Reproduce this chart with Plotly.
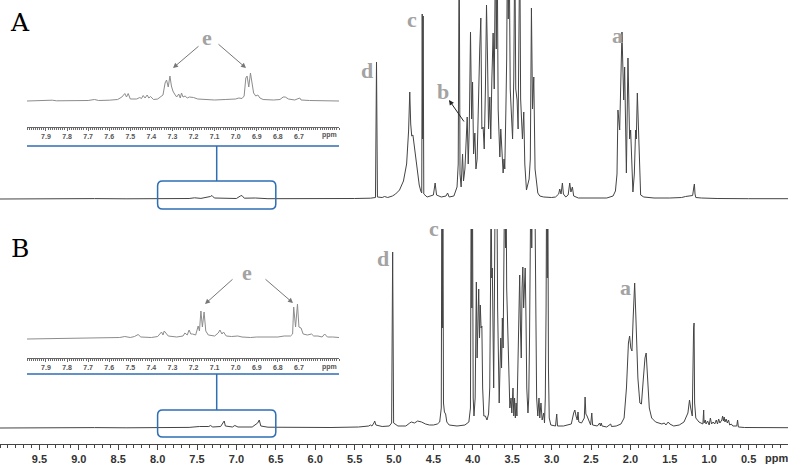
import plotly.graph_objects as go

# ---------------- data (ppm, intensity) ----------------
spec_A = [
    (10.0, 0), (9.6, 0.3), (9.2, 0), (8.8, 0.4), (8.4, 0.2), (8.0, 0.3), (7.6, 0.5), (7.53, 1.2), (7.45, 0.6),
    (7.33, 2.5), (7.31, 3.5), (7.28, 1), (7.2, 0.8), (7.0, 0.5), (6.95, 3), (6.93, 3.5), (6.90, 0.8), (6.76, 1),
    (6.6, 0.3), (6.2, 0.2), (5.8, 0.3), (5.5, 0.5), (5.30, 0.8), (5.235, 1.5), (5.222, 137), (5.21, 2), (5.15, 1.5),
    (5.12, 2.5), (5.08, 1.5), (5.02, 3), (4.98, 5), (4.93, 9), (4.88, 18), (4.84, 35), (4.815, 68), (4.80, 107),
    (4.788, 75), (4.775, 63), (4.76, 64), (4.74, 52), (4.71, 30), (4.68, 14), (4.66, 8), (4.648, 6), (4.642, 185),
    (4.636, 60), (4.630, 183), (4.622, 5), (4.58, 2), (4.50, 4), (4.478, 16), (4.46, 4), (4.40, 2), (4.34, 3),
    (4.32, 6), (4.30, 2), (4.24, 3), (4.20, 12), (4.185, 35), (4.173, 260), (4.162, 25), (4.148, 12), (4.130, 45),
    (4.118, 18), (4.100, 30), (4.085, 60), (4.071, 82), (4.058, 35), (4.045, 70), (4.029, 167), (4.015, 80),
    (4.003, 117), (3.99, 45), (3.974, 66), (3.96, 30), (3.945, 40), (3.93, 100), (3.912, 150), (3.898, 181),
    (3.885, 70), (3.869, 72), (3.855, 50), (3.84, 110), (3.826, 194), (3.813, 140), (3.800, 70), (3.784, 102),
    (3.772, 60), (3.758, 120), (3.742, 166), (3.728, 110), (3.712, 260), (3.702, 150), (3.691, 260), (3.678, 90),
    (3.667, 60), (3.657, 42), (3.645, 70), (3.630, 50), (3.615, 26), (3.604, 40), (3.594, 30), (3.580, 90),
    (3.570, 140), (3.560, 260), (3.550, 180), (3.539, 260), (3.525, 110), (3.509, 82), (3.495, 60), (3.480, 120),
    (3.467, 260), (3.455, 110), (3.438, 99), (3.425, 70), (3.415, 150), (3.404, 260), (3.393, 100), (3.383, 79),
    (3.370, 60), (3.353, 87), (3.340, 35), (3.319, 9), (3.300, 14), (3.285, 20), (3.270, 40), (3.256, 191),
    (3.242, 90), (3.226, 122), (3.210, 30), (3.192, 16), (3.175, 6), (3.150, 3), (3.10, 2), (3.0, 1.5), (2.95, 2),
    (2.91, 5), (2.897, 10), (2.88, 5), (2.863, 16), (2.85, 5), (2.82, 2), (2.79, 4), (2.77, 16), (2.755, 7),
    (2.736, 12), (2.72, 3), (2.66, 1), (2.5, 1), (2.3, 1), (2.22, 3), (2.19, 8), (2.17, 25), (2.158, 89),
    (2.136, 69), (2.107, 167), (2.085, 99), (2.073, 132), (2.051, 26), (2.031, 141), (2.010, 60), (1.997, 69),
    (1.968, 7), (1.95, 25), (1.934, 69), (1.925, 60), (1.912, 106), (1.892, 59), (1.88, 20), (1.87, 4), (1.83, 2),
    (1.7, 1), (1.5, 1), (1.35, 1.5), (1.30, 2.5), (1.25, 3), (1.21, 3.5), (1.195, 12), (1.188, 15), (1.18, 5),
    (1.17, 1.5), (1.1, 1), (0.9, 0.5), (0.5, 0.3), (0.0, 0.3),
]

spec_B = [
    (10.0, 0), (9.6, 0.3), (9.2, 0.1), (8.8, 0.4), (8.4, 0.2), (8.0, 0.4), (7.6, 0.6), (7.47, 1.5), (7.35, 1.5),
    (7.33, 2.5), (7.3, 1), (7.2, 1.5), (7.17, 6), (7.155, 7), (7.14, 2), (7.05, 1), (7.02, 2.5), (6.98, 1),
    (6.8, 1), (6.73, 5), (6.71, 8), (6.69, 2), (6.6, 0.8), (6.2, 0.3), (5.8, 0.5), (5.45, 1), (5.32, 2),
    (5.30, 3), (5.28, 2), (5.255, 5), (5.245, 7), (5.23, 3), (5.15, 1.5), (5.06, 2), (5.03, 5), (5.017, 176),
    (5.005, 5), (4.95, 2), (4.85, 2), (4.80, 5), (4.78, 6), (4.74, 5), (4.70, 7), (4.65, 6), (4.60, 4), (4.55, 3),
    (4.50, 3), (4.45, 4), (4.42, 6), (4.40, 20), (4.392, 260), (4.386, 100), (4.380, 260), (4.372, 25), (4.36, 16),
    (4.345, 14), (4.33, 6), (4.30, 3), (4.20, 2), (4.10, 3), (4.05, 6), (4.03, 20), (4.020, 260), (4.012, 120),
    (4.005, 260), (3.995, 30), (3.985, 12), (3.97, 30), (3.955, 146), (3.945, 70), (3.935, 118), (3.925, 139),
    (3.915, 90), (3.905, 123), (3.895, 100), (3.885, 102), (3.875, 40), (3.86, 12), (3.84, 12), (3.82, 8),
    (3.80, 14), (3.785, 40), (3.775, 140), (3.768, 260), (3.760, 150), (3.752, 160), (3.742, 90), (3.735, 40),
    (3.725, 140), (3.715, 260), (3.705, 200), (3.695, 260), (3.685, 120), (3.675, 40), (3.665, 25), (3.655, 60),
    (3.645, 90), (3.635, 60), (3.625, 110), (3.615, 80), (3.605, 160), (3.595, 260), (3.585, 180), (3.578, 260),
    (3.570, 140), (3.560, 100), (3.55, 60), (3.54, 50), (3.53, 20), (3.515, 30), (3.505, 15), (3.49, 40),
    (3.48, 12), (3.47, 30), (3.46, 10), (3.45, 25), (3.44, 12), (3.425, 70), (3.415, 120), (3.405, 153),
    (3.395, 100), (3.385, 70), (3.375, 140), (3.365, 161), (3.355, 120), (3.345, 150), (3.335, 160), (3.325, 110),
    (3.315, 40), (3.30, 15), (3.29, 30), (3.28, 90), (3.27, 200), (3.262, 260), (3.252, 180), (3.242, 260),
    (3.232, 200), (3.222, 260), (3.212, 240), (3.20, 120), (3.19, 30), (3.175, 12), (3.16, 30), (3.15, 10),
    (3.135, 25), (3.12, 8), (3.10, 15), (3.09, 5), (3.08, 30), (3.07, 120), (3.063, 260), (3.055, 150),
    (3.048, 260), (3.04, 60), (3.03, 10), (3.01, 3), (2.95, 2), (2.935, 14), (2.925, 2), (2.85, 2), (2.75, 4),
    (2.72, 15), (2.705, 18), (2.69, 12), (2.675, 8), (2.665, 16), (2.655, 6), (2.62, 5), (2.585, 10), (2.575, 31),
    (2.565, 14), (2.55, 12), (2.53, 8), (2.505, 3), (2.49, 15), (2.48, 3), (2.42, 2), (2.39, 5), (2.38, 2),
    (2.37, 5), (2.36, 2), (2.3, 1), (2.25, 4), (2.24, 1.5), (2.18, 2), (2.12, 4), (2.08, 10), (2.05, 40),
    (2.025, 85), (2.010, 92), (1.995, 80), (1.98, 77), (1.965, 110), (1.946, 145), (1.93, 110), (1.905, 50),
    (1.88, 25), (1.86, 24), (1.835, 50), (1.815, 70), (1.800, 75), (1.785, 50), (1.76, 20), (1.73, 10), (1.68, 6),
    (1.60, 4), (1.57, 5), (1.55, 3), (1.52, 6), (1.50, 4), (1.45, 2), (1.38, 3), (1.32, 6), (1.27, 15), (1.25, 28),
    (1.235, 20), (1.215, 12), (1.198, 100), (1.192, 105), (1.185, 25), (1.17, 10), (1.13, 6), (1.08, 4), (1.07, 18),
    (1.065, 5), (1.05, 8), (1.04, 4), (1.02, 7), (1.00, 3), (0.985, 10), (0.97, 4), (0.95, 6), (0.93, 4), (0.91, 8),
    (0.895, 4), (0.88, 9), (0.865, 5), (0.84, 8), (0.83, 12), (0.82, 7), (0.81, 11), (0.80, 6), (0.785, 9),
    (0.77, 5), (0.755, 8), (0.74, 3), (0.72, 4), (0.70, 2), (0.65, 2), (0.64, 8), (0.63, 1), (0.55, 0.5),
    (0.3, 0.2), (0.0, 0.3),
]

inset_A = [
    (7.99, 0), (7.95, 0.3), (7.90, 0), (7.87, 0.8), (7.85, 0.2), (7.80, 0.3), (7.75, 0.2), (7.70, 0.5), (7.67, 1.5),
    (7.65, 0.5), (7.60, 0.8), (7.56, 1.5), (7.54, 4), (7.526, 7.5), (7.518, 4), (7.510, 7.5), (7.50, 2), (7.47, 2),
    (7.455, 3.5), (7.447, 2.5), (7.439, 5.5), (7.43, 3), (7.42, 6), (7.412, 3), (7.404, 4.5), (7.39, 1.5),
    (7.37, 2), (7.345, 6), (7.335, 18), (7.328, 21), (7.32, 14), (7.312, 25), (7.305, 15), (7.298, 10), (7.29, 7),
    (7.28, 4), (7.27, 7), (7.263, 3), (7.257, 8), (7.25, 4), (7.24, 5), (7.23, 3), (7.22, 4), (7.20, 3.5),
    (7.18, 2), (7.15, 1.5), (7.10, 1), (7.05, 1.5), (7.00, 2), (6.985, 3), (6.97, 2.5), (6.96, 5), (6.952, 23),
    (6.946, 25), (6.938, 14), (6.930, 28), (6.922, 15), (6.915, 8), (6.905, 5), (6.895, 6), (6.885, 3), (6.87, 1.5),
    (6.82, 1), (6.79, 1.5), (6.775, 4), (6.765, 4), (6.75, 2), (6.72, 1), (6.696, 3), (6.69, 1), (6.65, 0.5),
    (6.60, 0.3), (6.51, 0),
]

inset_B = [
    (7.99, 0), (7.9, 0.3), (7.8, 0.2), (7.7, 0.5), (7.6, 1), (7.55, 1.5), (7.526, 2.5), (7.50, 1.5), (7.48, 2.5),
    (7.463, 4.5), (7.45, 2), (7.40, 1.5), (7.37, 2.5), (7.352, 7), (7.345, 4), (7.339, 8), (7.32, 3), (7.28, 2),
    (7.25, 3), (7.241, 6), (7.23, 4), (7.221, 9), (7.213, 5), (7.205, 5), (7.19, 4), (7.178, 13), (7.172, 8),
    (7.165, 28), (7.158, 12), (7.150, 27), (7.142, 8), (7.13, 4), (7.10, 3), (7.083, 6), (7.075, 9), (7.065, 5),
    (7.058, 7), (7.045, 3), (7.02, 2.5), (6.99, 3), (6.97, 2), (6.93, 1.5), (6.90, 2), (6.85, 2), (6.80, 2),
    (6.77, 3), (6.74, 3), (6.73, 5), (6.725, 32), (6.716, 12), (6.707, 35), (6.70, 12), (6.69, 11), (6.68, 5),
    (6.66, 4), (6.64, 5), (6.63, 3), (6.61, 3), (6.59, 2), (6.578, 5), (6.565, 2), (6.54, 2), (6.51, 1.5),
]

main_ticks = [9.5, 9.0, 8.5, 8.0, 7.5, 7.0, 6.5, 6.0, 5.5, 5.0, 4.5, 4.0, 3.5, 3.0, 2.5, 2.0, 1.5, 1.0, 0.5]
inset_ticks = [7.9, 7.8, 7.7, 7.6, 7.5, 7.4, 7.3, 7.2, 7.1, 7.0, 6.9, 6.8, 6.7]
peak_labels_A = [("e", 207, 37), ("d", 367, 70), ("c", 412, 19), ("b", 443, 91), ("a", 617, 36)]
peak_labels_B = [("e", 247, 272), ("d", 383, 259), ("c", 434, 229), ("a", 625, 287)]

# ---------------- layout helpers ----------------
W, H, PLOT_H = 788, 465, 444


def px(x):
    return x / W


def py(y):
    return (PLOT_H - y) / PLOT_H


SPEC_COLOR = "#444444"
INSET_COLOR = "#8c8c8c"
BLUE = "#2f6db5"
LABEL_GREY = "#a3a3a3"

fig = go.Figure()


def add_spec(pairs, xa, ya, color, width):
    fig.add_trace(go.Scatter(x=[p[0] for p in pairs], y=[p[1] for p in pairs], mode="lines",
                             line=dict(color=color, width=width), xaxis=xa, yaxis=ya,
                             hoverinfo="skip", showlegend=False))


add_spec(spec_A, "x", "y", SPEC_COLOR, 1)
add_spec(spec_B, "x", "y2", SPEC_COLOR, 1)
add_spec(inset_A, "x2", "y3", INSET_COLOR, 1)
add_spec(inset_B, "x3", "y4", INSET_COLOR, 1)

hidden_y = dict(visible=False, showgrid=False, zeroline=False, fixedrange=True)
inset_x = dict(domain=[px(27), px(339)], range=[7.99, 6.51], showline=True, linecolor="#6a6a6a", linewidth=1,
               ticks="outside", ticklen=3, tickcolor="#6a6a6a", tickwidth=1,
               tickmode="array", tickvals=inset_ticks, ticktext=[f"{v:.1f}" for v in inset_ticks],
               tickfont=dict(family="Liberation Sans", size=7, color="#555555", weight="bold"),
               minor=dict(tickmode="linear", tick0=0, dtick=0.01, ticks="outside", ticklen=1.5,
                          tickcolor="#6a6a6a", tickwidth=1, showgrid=False),
               showgrid=False, zeroline=False)

fig.update_layout(
    width=W, height=H, margin=dict(l=0, r=0, t=0, b=H - PLOT_H, autoexpand=False),
    paper_bgcolor="white", plot_bgcolor="white", showlegend=False,
    xaxis=dict(domain=[0, 1], range=[10.0, 0.0], anchor="y2", showline=True, linecolor="#444444", linewidth=1,
               ticks="outside", ticklen=5, tickcolor="#444444", tickwidth=1,
               tickmode="array", tickvals=main_ticks, ticktext=[f"{v:.1f}" for v in main_ticks],
               tickfont=dict(family="Liberation Sans", size=11, color="#333333", weight="bold"),
               minor=dict(tickmode="linear", tick0=0, dtick=0.1, ticks="outside", ticklen=2.5,
                          tickcolor="#444444", tickwidth=1, showgrid=False),
               showgrid=False, zeroline=False),
    yaxis=dict(domain=[py(205), 1.0], range=[-6, 199], **hidden_y),
    yaxis2=dict(domain=[0, py(229)], range=[-16, 199], **hidden_y),
    xaxis2=dict(anchor="y3", **inset_x),
    yaxis3=dict(domain=[py(127), py(60)], range=[-26, 41], **hidden_y),
    xaxis3=dict(anchor="y4", **inset_x),
    yaxis4=dict(domain=[py(358), py(290)], range=[-19, 49], **hidden_y),
)

# ---------------- blue zoom connectors ----------------
def rounded_box(left, right, top_px, bot_px, r_px=5):
    rx = r_px / 78.8
    yt, yb, ry = py(top_px), py(bot_px), r_px / PLOT_H
    path = (f"M {left - rx},{yt} L {right + rx},{yt} Q {right},{yt} {right},{yt - ry} "
            f"L {right},{yb + ry} Q {right},{yb} {right + rx},{yb} L {left - rx},{yb} "
            f"Q {left},{yb} {left},{yb + ry} L {left},{yt - ry} Q {left},{yt} {left - rx},{yt} Z")
    fig.add_shape(type="path", path=path, xref="x", yref="paper", line=dict(color=BLUE, width=1.5))


for line_y, box_top, box_bot in [(146, 181, 209), (374, 410, 437)]:
    fig.add_shape(type="line", xref="paper", yref="paper", x0=px(27), x1=px(339), y0=py(line_y), y1=py(line_y),
                  line=dict(color=BLUE, width=1.5))
    fig.add_shape(type="line", xref="x", yref="paper", x0=7.25, x1=7.25, y0=py(line_y), y1=py(box_top),
                  line=dict(color=BLUE, width=1.5))
    rounded_box(8.0, 6.5, box_top, box_bot)

# ---------------- texts ----------------
def text(t, x, y, size, color, family="Liberation Serif", bold=False):
    fig.add_annotation(text=t, x=px(x), y=py(y), xref="paper", yref="paper", showarrow=False,
                       xanchor="center", yanchor="middle",
                       font=dict(family=family, size=size, color=color, weight="bold" if bold else "normal"))


text("A", 20, 22, 25, "black", family="DejaVu Serif")
text("B", 20, 248, 25, "black", family="DejaVu Serif")
for t, x, y in peak_labels_A + peak_labels_B:
    text(t, x, y, 22, LABEL_GREY, bold=True)
text("ppm", 776, 458, 11, "#333333", family="Liberation Sans", bold=True)
text("ppm", 329, 135, 7, "#555555", family="Liberation Sans", bold=True)
text("ppm", 329, 367, 7, "#555555", family="Liberation Sans", bold=True)


def arrow(x_tail, y_tail, x_head, y_head, color):
    fig.add_annotation(x=px(x_head), y=py(y_head), xref="paper", yref="paper", text="", showarrow=True,
                       ax=x_tail - x_head, ay=y_tail - y_head, axref="pixel", ayref="pixel",
                       arrowhead=2, arrowsize=1, arrowwidth=1, arrowcolor=color)


arrow(200, 45, 173, 68, "#777777")
arrow(217, 43, 246, 68, "#777777")
arrow(234, 278, 205, 304, "#777777")
arrow(264, 278, 293, 303, "#777777")
arrow(465, 123, 449, 100, "#222222")

fig.write_html("out.html", config={"displayModeBar": False})
